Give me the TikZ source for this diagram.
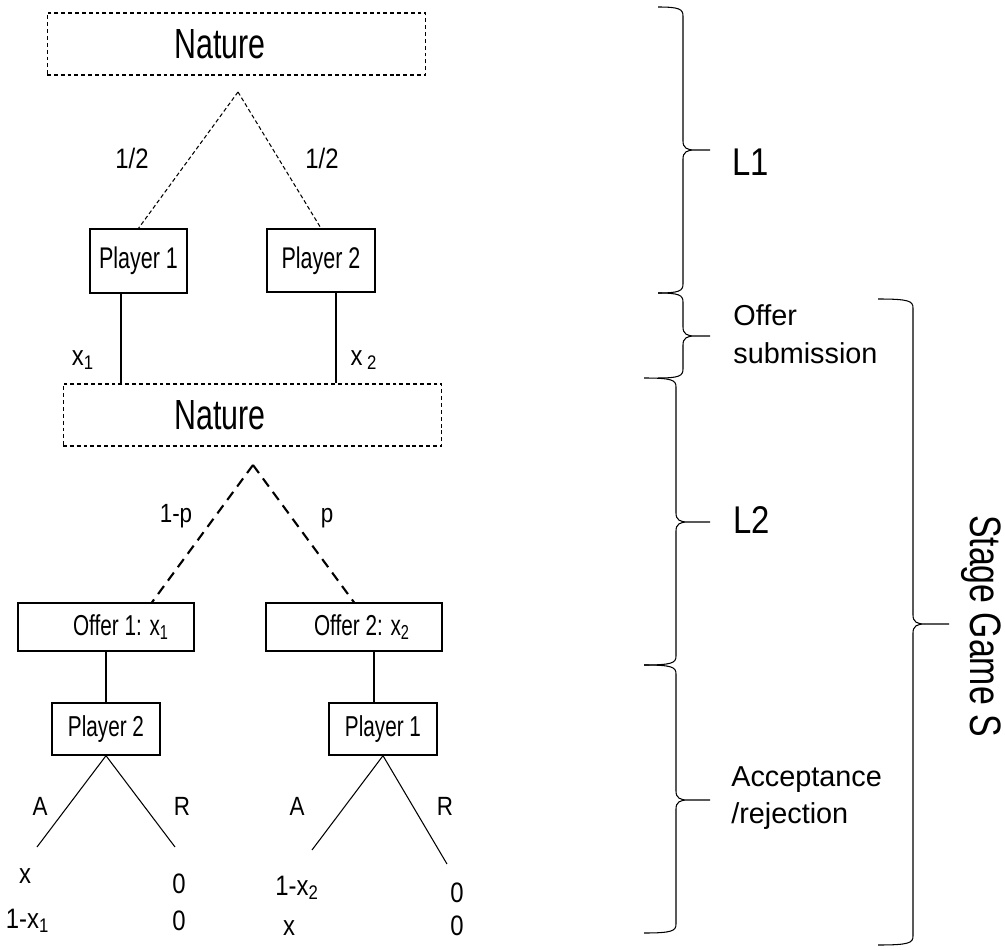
\documentclass[tikz,border=0pt]{standalone}
\usepackage{fontspec}
\setmainfont{Liberation Sans}
\newfontfamily\narrowfont{Liberation Sans}[FakeStretch=0.72]
\newfontfamily\levelfont{Liberation Sans}[FakeStretch=0.85]
\newfontfamily\stagefont{Liberation Sans}[FakeStretch=0.77]

\begin{document}
\begin{tikzpicture}[x=0.02cm, y=-0.02cm,
        box/.style={draw, line width=0.8pt, inner sep=0pt, font=\narrowfont\fontsize{17}{20}\selectfont},
        naturebox/.style={draw, dash pattern=on 2.2pt off 1.7pt, line width=0.6pt, minimum width=7.58cm,
          minimum height=1.24cm, inner sep=0pt, font=\narrowfont\fontsize{24}{28}\selectfont},
        lbl/.style={inner sep=0pt, anchor=base, font=\levelfont\fontsize{16}{19}\selectfont},
        side/.style={inner sep=0pt, align=left, font=\fontsize{16.4}{21.5}\selectfont},
        chance/.style={dash pattern=on 2.3pt off 1.5pt, line width=0.6pt},
        chancethick/.style={dash pattern=on 5.7pt off 3.8pt, line width=1.2pt},
        move/.style={line width=0.75pt},
        branch/.style={line width=0.6pt},
        bracket/.style={line width=0.6pt}]
        \useasboundingbox (0,0) rectangle (1005,950);

        % level 1
        \node[naturebox] (N1) at (236.5,44) {Nature\hspace*{0.66cm}};
        \coordinate (N1c) at (238,92);
        \node[box, minimum width=1.94cm, minimum height=1.28cm] (P1) at (138.5,261) {Player 1};
        \node[box, minimum width=2.16cm, minimum height=1.26cm] (P2) at (321,260.5) {Player 2};

        \draw[chance] (N1c) -- (P1.north);
        \draw[chance] (N1c) -- (P2.north);
        \node[lbl] (h1) at (132,168) {1/2};
        \node[lbl] (h2) at (322,168) {1/2};

        % offer submission
        \node[naturebox] (N2) at (252.5,415) {Nature\hspace*{1.3cm}};
        \coordinate (P1o) at ([xshift=-0.35cm]P1.south);
        \coordinate (P2o) at ([xshift=0.3cm]P2.south);
        \draw[move] (P1o) -- (P1o |- N2.north);
        \draw[move] (P2o) -- (P2o |- N2.north);
        \node[lbl] (x1) at (83,365) {x\textsubscript{1}};
        \node[lbl] (x2) at (364,365) {x\,\textsubscript{2}};

        % level 2
        \coordinate (N2c) at (253,465);
        \node[box, minimum width=3.52cm, minimum height=0.96cm, font=\narrowfont\fontsize{16.4}{20}\selectfont]
          (O1) at (106,627) {\hspace*{0.6cm}Offer 1: x\textsubscript{1}};
        \node[box, minimum width=3.52cm, minimum height=0.96cm, font=\narrowfont\fontsize{16.4}{20}\selectfont]
          (O2) at (354,627) {\hspace*{0.32cm}Offer 2: x\textsubscript{2}};

        \draw[chancethick] (N2c) -- ([xshift=0.92cm]O1.north);
        \draw[chancethick] (N2c) -- (O2.north);
        \node[lbl, font=\levelfont\fontsize{15}{18}\selectfont] (lp) at (176,522) {1-p};
        \node[lbl, font=\levelfont\fontsize{15}{18}\selectfont] (rp) at (327,522) {p};

        % acceptance / rejection
        \node[box, minimum width=2.16cm, minimum height=1.04cm, font=\narrowfont\fontsize{16.4}{20}\selectfont]
          (Q2) at (106,729) {Player 2};
        \node[box, minimum width=2.16cm, minimum height=1.04cm, font=\narrowfont\fontsize{16.4}{20}\selectfont]
          (Q1) at (383,729) {Player 1};
        \coordinate (O2o) at ([xshift=0.4cm]O2.south);
        \draw[move] (O1.south) -- (Q2.north);
        \draw[move] (O2o) -- (O2o |- Q1.north);

        \coordinate (Q2a) at (37,847);
        \coordinate (Q2r) at (175,847);
        \coordinate (Q1a) at (312,850);
        \coordinate (Q1r) at (447,864);
        \draw[branch] (Q2.south) -- (Q2a);
        \draw[branch] (Q2.south) -- (Q2r);
        \draw[branch] (Q1.south) -- (Q1a);
        \draw[branch] (Q1.south) -- (Q1r);

        \node[lbl, font=\levelfont\fontsize{15}{18}\selectfont] (A2) at (40,815) {A};
        \node[lbl, font=\levelfont\fontsize{15}{18}\selectfont] (R2) at (182,815) {R};
        \node[lbl, font=\levelfont\fontsize{15}{18}\selectfont] (A1) at (297,815) {A};
        \node[lbl, font=\levelfont\fontsize{15}{18}\selectfont] (R1) at (445,815) {R};

        % payoffs
        \node[lbl] (pa1) at (25,883) {x};
        \node[lbl] (pa2) at (27.5,928) {1-x\textsubscript{1}};
        \node[lbl] (pr1) at (179,893) {0};
        \node[lbl] (pr2) at (179,930) {0};
        \node[lbl] (qa1) at (297,895) {1-x\textsubscript{2}};
        \node[lbl] (qa2) at (289,935) {x};
        \node[lbl] (qr1) at (457,902) {0};
        \node[lbl] (qr2) at (457,935) {0};

        % braces
        \foreach \sx/\ty/\by/\my/\tx/\px in {683/7/293/150/658/710, 683/293/378/336/658/710,
            676/378/665/522/644/710, 676/665/933/800/644/710, 913/299/945/624/878/949}
          \draw[bracket] (\tx,\ty) .. controls (\sx-4,\ty) and (\sx,\ty+2) .. (\sx,\ty+9)
            -- (\sx,\my-9) .. controls (\sx,\my-2) and (\sx+4,\my) .. (\sx+12,\my) -- (\px,\my)
            (\sx+12,\my) .. controls (\sx+4,\my) and (\sx,\my+2) .. (\sx,\my+9)
            -- (\sx,\by-9) .. controls (\sx,\by-2) and (\sx-4,\by) .. (\tx,\by);

        \node[inner sep=0pt, anchor=base west, font=\levelfont\fontsize{22}{26}\selectfont] (L1) at (732,175) {L1};
        \node[inner sep=0pt, anchor=base west, font=\levelfont\fontsize{22}{26}\selectfont] (L2) at (733,533) {L2};
        \node[side, anchor=west] (off) at (733,334) {Offer\\submission};
        \node[side, anchor=west] (acc) at (731,798) {Acceptance\\/rejection};
        \node[rotate=-90, inner sep=0pt, font=\stagefont\fontsize{25}{30}\selectfont] (S) at (981,626) {Stage Game S};

      \end{tikzpicture}
\end{document}
